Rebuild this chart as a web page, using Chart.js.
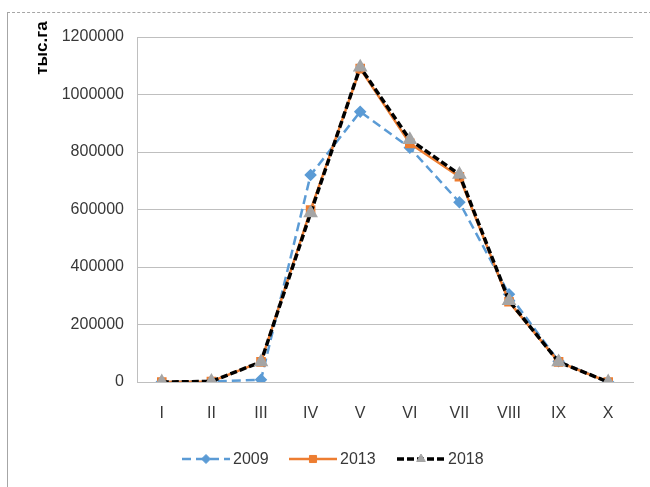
<!DOCTYPE html>
<html>
<head>
<meta charset="utf-8">
<script src="https://cdn.jsdelivr.net/npm/chart.js@4.4.1/dist/chart.umd.min.js"></script>
<style>
  html, body { margin: 0; padding: 0; background: #fff; }
  #wrap { position: relative; width: 650px; height: 487px; overflow: hidden; }
  #frame {
    position: absolute; left: 7px; top: 12px; right: -2px; bottom: -2px;
    border-top: 1px dashed #a6a6a6; border-left: 1px solid #a6a6a6;
  }
  canvas { position: absolute; left: 0; top: 0; }
</style>
</head>
<body>
<div id="wrap">
  <div id="frame"></div>
  <canvas id="chart" width="650" height="487"></canvas>
</div>
<script>
/* ── Данные ─────────────────────────────────────────────────────────── */
const months  = ['I', 'II', 'III', 'IV', 'V', 'VI', 'VII', 'VIII', 'IX', 'X'];
const y2009   = [0, 2000, 8000, 720000, 940000, 815000, 625000, 305000, 72000, 0];
const y2013   = [0, 2000, 70000, 598000, 1090000, 830000, 714000, 279000, 70000, 0];
const y2018   = [0, 2000, 70000, 588000, 1095000, 843000, 722000, 283000, 70000, 0];
const yTicks  = [0, 200000, 400000, 600000, 800000, 1000000, 1200000];
const yTitle  = 'тыс.га';

const FONT = "'Liberation Sans', Arial, sans-serif";
const TXT  = '#383838';
const gridColor = '#bfbfbf';

/* Подпись оси Y и легенда рисуются вручную */
const decorPlugin = {
  id: 'decor',
  afterDraw(chart) {
    const ctx = chart.ctx;
    ctx.save();
    // заголовок оси
    ctx.translate(42, 48);
    ctx.rotate(-Math.PI / 2);
    ctx.font = 'bold 17px ' + FONT;
    ctx.fillStyle = '#000';
    ctx.textAlign = 'center';
    ctx.textBaseline = 'middle';
    ctx.fillText(yTitle, 0, 0);
    ctx.restore();

    // легенда
    const items = [
      { ds: chart.data.datasets[0], x: 182 },
      { ds: chart.data.datasets[1], x: 289 },
      { ds: chart.data.datasets[2], x: 397 },
    ];
    const ly = 459;
    items.forEach(({ ds, x }) => {
      ctx.save();
      ctx.strokeStyle = ds.borderColor;
      ctx.lineWidth = ds.borderWidth;
      ctx.setLineDash(ds.borderDash || []);
      ctx.beginPath();
      ctx.moveTo(x, ly);
      ctx.lineTo(x + 48, ly);
      ctx.stroke();
      ctx.restore();
      ctx.save();
      ctx.fillStyle = ds.pointBackgroundColor;
      ctx.strokeStyle = ds.pointBorderColor;
      ctx.lineWidth = 1;
      Chart.helpers.drawPoint(ctx, {
        pointStyle: ds.pointStyle,
        radius: ds.pointRadius,
        rotation: 0,
        borderWidth: 1,
      }, x + 24, ly);
      ctx.font = '16px ' + FONT;
      ctx.fillStyle = TXT;
      ctx.textAlign = 'left';
      ctx.textBaseline = 'middle';
      ctx.fillText(ds.label, x + 51, ly + 1);
      ctx.restore();
    });
  }
};

new Chart(document.getElementById('chart'), {
  type: 'line',
  data: {
    labels: months,
    datasets: [
      {
        label: '2009',
        data: y2009,
        borderColor: '#5b9bd5',
        borderWidth: 2.5,
        borderDash: [9, 5],
        pointStyle: 'rectRot',
        pointRadius: 4.5,
        pointBackgroundColor: '#5b9bd5',
        pointBorderColor: '#5b9bd5',
        tension: 0,
        order: 3,
      },
      {
        label: '2013',
        data: y2013,
        borderColor: '#ed7d31',
        borderWidth: 2.5,
        pointStyle: 'rect',
        pointRadius: 5,
        pointBackgroundColor: '#ed7d31',
        pointBorderColor: '#ed7d31',
        tension: 0,
        order: 2,
      },
      {
        label: '2018',
        data: y2018,
        borderColor: '#000000',
        borderWidth: 3.5,
        borderDash: [7, 3],
        pointStyle: 'triangle',
        pointRadius: 5,
        pointBackgroundColor: '#a5a5a5',
        pointBorderColor: '#a5a5a5',
        tension: 0,
        order: 1,
      },
    ],
  },
  options: {
    responsive: false,
    animation: false,
    layout: { padding: { top: 37, right: 17, bottom: 0, left: 0 } },
    plugins: {
      legend: { display: false },
      tooltip: { enabled: false },
    },
    scales: {
      x: {
        offset: true,
        grid: { display: false, drawTicks: false },
        border: { display: true, color: gridColor, width: 1 },
        ticks: { color: TXT, font: { family: FONT, size: 16 }, padding: 22, maxRotation: 0 },
        afterFit: (s) => { s.height = 105; },
      },
      y: {
        min: 0,
        max: 1200000,
        afterBuildTicks: (s) => { s.ticks = yTicks.map(v => ({ value: v })); },
        grid: { color: gridColor, lineWidth: 1, drawTicks: false },
        border: { display: true, color: gridColor, width: 1 },
        ticks: {
          color: TXT,
          font: { family: FONT, size: 16 },
          padding: 13,
          callback: (v) => String(v),
        },
        afterFit: (s) => { s.width = 137; },
      },
    },
  },
  plugins: [decorPlugin],
});
</script>
</body>
</html>
